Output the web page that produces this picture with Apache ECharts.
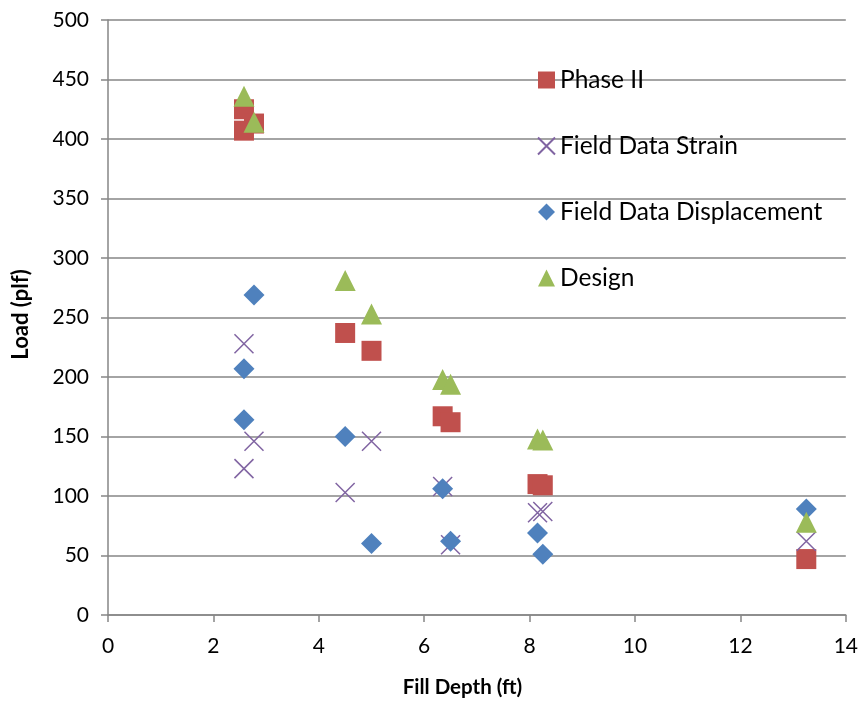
<!DOCTYPE html>
<html>
<head>
<meta charset="utf-8">
<script src="https://cdn.jsdelivr.net/npm/echarts@6/dist/echarts.min.js"></script>
<style>
html,body{margin:0;padding:0;background:#fff;}
#chart{width:861px;height:705px;}
</style>
</head>
<body>
<div id="chart"></div>
<script>
// Data: [Fill Depth (ft), Load (plf)]
const phaseII = [[2.58,425],[2.58,407],[2.77,413],[4.5,237],[5.0,222],[6.35,167],[6.5,162],[8.15,110],[8.25,109],[13.25,47]];
const fieldStrain = [[2.58,228],[2.77,146],[2.58,123],[4.5,103],[5.0,146],[6.35,108],[6.5,59],[8.15,86],[8.25,87],[13.25,62]];
const fieldDisplacement = [[2.77,269],[2.58,207],[2.58,164],[4.5,150],[5.0,60],[6.35,106],[6.5,62],[8.15,69],[8.25,51],[13.25,89]];
const design = [[2.58,436],[2.77,414],[4.5,281],[5.0,253],[6.35,198],[6.5,194],[8.15,148],[8.25,147],[13.25,78]];
const seriesNames = ['Phase II','Field Data Strain','Field Data Displacement','Design'];
const xTitle = 'Fill Depth (ft)';
const yTitle = 'Load (plf)';

const FONT = 'Lato';
const chart = echarts.init(document.getElementById('chart'), null, {renderer:'canvas'});
const xPath = 'path://M0,0L10,10M10,0L0,10';
chart.setOption({
  animation:false,
  backgroundColor:'#fff',
  grid:{left:108,right:13,top:20,bottom:90,containLabel:false},
  xAxis:{
    type:'value',min:0,max:14,interval:2,
    name:xTitle,nameLocation:'middle',nameGap:62,
    nameTextStyle:{fontFamily:FONT,fontWeight:'bold',fontSize:20.5,color:'#000',padding:[0,29,0,0]},
    axisLine:{show:true,onZero:false,lineStyle:{color:'#868686',width:1.5}},
    axisTick:{show:true,length:7,lineStyle:{color:'#868686',width:1.5}},
    axisLabel:{fontFamily:FONT,fontSize:21,color:'#000',margin:21},
    splitLine:{show:false}
  },
  yAxis:{
    type:'value',min:0,max:500,interval:50,
    name:yTitle,nameLocation:'middle',nameGap:76,
    nameTextStyle:{fontFamily:FONT,fontWeight:'bold',fontSize:22,color:'#000',padding:[0,0,0,6]},
    axisLine:{show:true,lineStyle:{color:'#868686',width:1.5}},
    axisTick:{show:true,length:7,lineStyle:{color:'#868686',width:1.5}},
    axisLabel:{fontFamily:FONT,fontSize:21,color:'#000',margin:19},
    splitLine:{show:true,lineStyle:{color:'#868686',width:1.5}}
  },
  legend:{
    orient:'vertical',left:537,top:65,padding:0,itemGap:36,itemWidth:17,itemHeight:17,
    textStyle:{fontFamily:FONT,fontSize:24.5,color:'#000',lineHeight:30},
    data:seriesNames
  },
  series:[
    {name:seriesNames[0],type:'scatter',data:phaseII,symbol:'rect',symbolSize:20,
     itemStyle:{color:'#C0504D',opacity:1}},
    {name:seriesNames[1],type:'scatter',data:fieldStrain,symbol:xPath,symbolSize:19,
     itemStyle:{color:'rgba(0,0,0,0)',borderColor:'#8064A2',borderWidth:1.5,opacity:1}},
    {name:seriesNames[2],type:'scatter',data:fieldDisplacement,symbol:'diamond',symbolSize:21,
     itemStyle:{color:'#4F81BD',opacity:1}},
    {name:seriesNames[3],type:'scatter',data:design,symbol:'triangle',symbolSize:21,
     itemStyle:{color:'#9BBB59',opacity:1}}
  ]
});
</script>
</body>
</html>
